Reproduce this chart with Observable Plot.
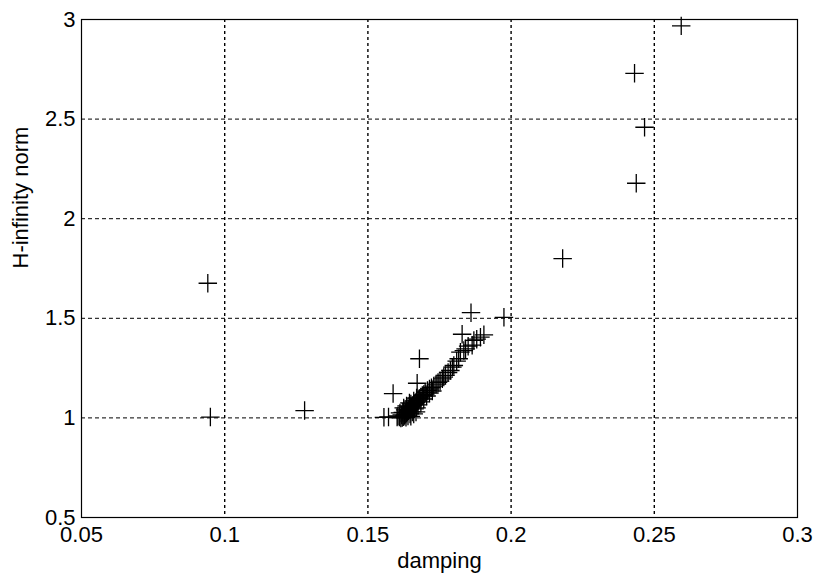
<!DOCTYPE html>
<html>
<head>
<meta charset="utf-8">
<script src="https://cdn.jsdelivr.net/npm/d3@7"></script>
<script src="https://cdn.jsdelivr.net/npm/@observablehq/plot@0.6"></script>
<style>
  html, body { margin: 0; padding: 0; background: #fff; }
</style>
</head>
<body>
<div id="chart"></div>
<script>
// damping (x) and H-infinity norm (y)
const damping = [
  0.2594, 0.2431, 0.2466, 0.2437, 0.2180, 0.0941, 0.0950, 0.1279, 0.1975, 0.1860,
  0.1829, 0.1680, 0.1672, 0.1588, 0.1556, 0.1572,
  0.1905, 0.1893, 0.1880, 0.1870, 0.1864, 0.1850, 0.1841, 0.1835, 0.1823, 0.1817,
  0.1810, 0.1800, 0.1795, 0.1788, 0.1780, 0.1771, 0.1765, 0.1760, 0.1752, 0.1745,
  0.1738, 0.1730, 0.1722, 0.1715, 0.1708, 0.1700, 0.1695, 0.1690, 0.1685, 0.1680,
  0.1676, 0.1672, 0.1668, 0.1664, 0.1660, 0.1656, 0.1652, 0.1648, 0.1645, 0.1642,
  0.1638, 0.1635, 0.1632, 0.1628, 0.1625, 0.1620, 0.1615, 0.1610, 0.1618, 0.1622,
  0.1630, 0.1640, 0.1650, 0.1660, 0.1670, 0.1663, 0.1655, 0.1647, 0.1640, 0.1633,
  0.1660, 0.1670, 0.1675, 0.1685, 0.1695, 0.1705, 0.1715, 0.1725, 0.1605, 0.1612,
  0.1625, 0.1635, 0.1645, 0.1602, 0.1650, 0.1668
];
const hinfNorm = [
  2.968, 2.730, 2.459, 2.178, 1.800, 1.676, 1.004, 1.037, 1.505, 1.528,
  1.420, 1.297, 1.174, 1.122, 1.003, 1.005,
  1.417, 1.405, 1.395, 1.389, 1.365, 1.360, 1.347, 1.338, 1.330, 1.297,
  1.285, 1.263, 1.255, 1.238, 1.228, 1.213, 1.205, 1.196, 1.185, 1.178,
  1.170, 1.160, 1.152, 1.145, 1.138, 1.128, 1.118, 1.112, 1.105, 1.098,
  1.090, 1.085, 1.078, 1.072, 1.066, 1.060, 1.054, 1.048, 1.042, 1.036,
  1.030, 1.025, 1.018, 1.012, 1.006, 1.002, 1.000, 1.004, 1.015, 1.028,
  1.040, 1.055, 1.070, 1.085, 1.100, 1.045, 1.030, 1.020, 1.010, 1.003,
  1.020, 1.050, 1.065, 1.080, 1.095, 1.110, 1.125, 1.135, 1.010, 1.025,
  1.050, 1.060, 1.075, 1.004, 1.008, 1.030
];
const xTicks = [0.05, 0.1, 0.15, 0.2, 0.25, 0.3];
const xTickLabels = ["0.05", "0.1", "0.15", "0.2", "0.25", "0.3"];
const yTicks = [0.5, 1, 1.5, 2, 2.5, 3];
const yTickLabels = ["0.5", "1", "1.5", "2", "2.5", "3"];
const xLabel = "damping";
const yLabel = "H-infinity norm";

const points = damping.map((d, i) => ({damping: d, hinf: hinfNorm[i]}));
const xGrid = xTicks.slice(1, -1);
const yGrid = yTicks.slice(1, -1);

const chart = Plot.plot({
  width: 814,
  height: 578,
  marginLeft: 81,
  marginRight: 17,
  marginTop: 19,
  marginBottom: 61,
  style: {fontFamily: "'Liberation Sans', Arial, sans-serif", fontSize: "22px", color: "black", background: "white"},
  x: {domain: [0.05, 0.3]},
  y: {domain: [0.5, 3]},
  marks: [
    Plot.gridX(xGrid, {stroke: "black", strokeOpacity: 1, strokeWidth: 1.4, strokeDasharray: "3,3"}),
    Plot.gridY(yGrid, {stroke: "black", strokeOpacity: 1, strokeWidth: 1, strokeDasharray: "4,3"}),
    Plot.frame({stroke: "black", strokeWidth: 1.2}),
    Plot.dot(points, {x: "damping", y: "hinf", symbol: "plus", r: 6, stroke: "black", strokeWidth: 1.3}),
    Plot.axisX(xTicks, {tickSize: 0, tickPadding: 9, tickFormat: (d, i) => xTickLabels[i], label: null, fontSize: 22}),
    Plot.axisY(yTicks, {tickSize: 0, tickPadding: 6, tickFormat: (d, i) => yTickLabels[i], label: null, fontSize: 22}),
    Plot.text([xLabel], {frameAnchor: "bottom", dy: 43, lineAnchor: "middle", fontSize: 22, fill: "black"}),
    Plot.text([yLabel], {frameAnchor: "left", dx: -61, rotate: -90, lineAnchor: "middle", fontSize: 22, fill: "black"})
  ]
});
document.getElementById("chart").appendChild(chart);
</script>
</body>
</html>
